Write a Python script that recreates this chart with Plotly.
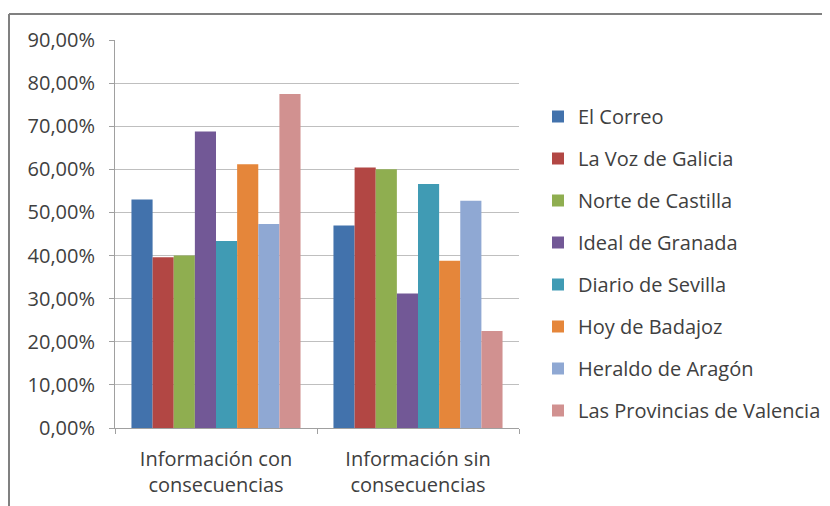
import plotly.graph_objects as go

categories = ["Información con consecuencias", "Información sin consecuencias"]
tick_labels = ["Información con<br>consecuencias", "Información sin<br>consecuencias"]
series_names = ["El Correo", "La Voz de Galicia", "Norte de Castilla", "Ideal de Granada",
                "Diario de Sevilla", "Hoy de Badajoz", "Heraldo de Aragón",
                "Las Provincias de Valencia"]
el_correo = [0.530, 0.470]
la_voz = [0.396, 0.604]
norte = [0.400, 0.600]
ideal = [0.688, 0.312]
diario = [0.434, 0.566]
hoy = [0.612, 0.388]
heraldo = [0.473, 0.527]
provincias = [0.775, 0.225]
series_values = [el_correo, la_voz, norte, ideal, diario, hoy, heraldo, provincias]
colors = ["#4272AC", "#B24744", "#8FAE50", "#725896", "#409BB4", "#E5863A", "#8FA8D3", "#D19190"]

font_family = "'Open Sans', Lato, sans-serif"
text_color = "#404040"

fig = go.Figure()
for name, vals, col in zip(series_names, series_values, colors):
    fig.add_trace(go.Bar(name=name, x=categories, y=vals, marker=dict(color=col, line=dict(width=0)),
                         legendgroup=name))

# page body has an 8px margin, so figure pixel = reference pixel - 8
OFF = 8
W, H = 830, 506
l, t = 115 - OFF, 40 - OFF
pw, ph = 404, 388
r, b = W - l - pw, H - t - ph

def px_x(p):
    return (p - OFF - l) / pw

def px_y(p):
    return (t + ph - (p - OFF)) / ph

fig.update_layout(
    width=W, height=H,
    margin=dict(l=l, r=r, t=t, b=b),
    paper_bgcolor="white", plot_bgcolor="white",
    separators=",.",
    barmode="group", bargap=0.163, bargroupgap=0,
    font=dict(family=font_family, size=20, color=text_color),
    legend=dict(x=px_x(538), y=px_y(97), xanchor="left", yanchor="top",
                font=dict(size=20, color=text_color), tracegroupgap=13,
                itemwidth=30, traceorder="grouped", bgcolor="rgba(0,0,0,0)"),
    xaxis=dict(type="category", tickvals=categories, ticktext=tick_labels,
               tickson="boundaries", ticks="outside", ticklen=5, tickcolor="#A0A0A0",
               showline=True, linecolor="#A0A0A0", linewidth=1, showgrid=False,
               ticklabelstandoff=13,
               tickfont=dict(size=20, color=text_color)),
    yaxis=dict(range=[0, 0.9], dtick=0.1, tickformat=".2%", ticks="outside", ticklen=5,
               tickcolor="#A0A0A0", showline=True, linecolor="#A0A0A0", linewidth=1,
               showgrid=True, gridcolor="#BFBFBF", gridwidth=1, zeroline=False,
               ticklabelstandoff=10,
               tickfont=dict(size=20, color=text_color)),
)

# chart border (left and top edges visible in reference)
fig.add_shape(type="line", xref="paper", yref="paper", x0=px_x(9), x1=px_x(845), y0=px_y(14), y1=px_y(14),
              line=dict(color="#808080", width=2))
fig.add_shape(type="line", xref="paper", yref="paper", x0=px_x(9), x1=px_x(9), y0=px_y(14), y1=px_y(520),
              line=dict(color="#808080", width=2))

fig.write_html("out.html")
